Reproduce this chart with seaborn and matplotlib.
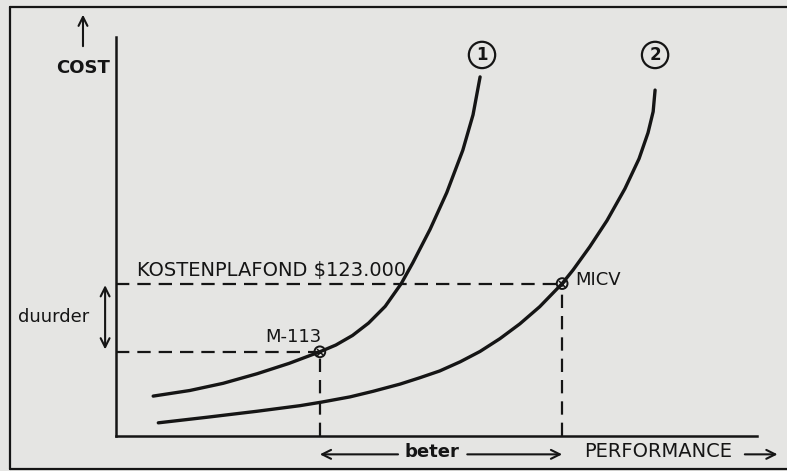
import matplotlib.pyplot as plt
import seaborn as sns
from matplotlib.lines import Line2D

# curve 1 and curve 2: cost versus performance (arbitrary units 0-100)
perf_1 = [5.8, 11.5, 16.7, 22.0, 27.0, 31.8, 34.3, 36.9, 39.4, 42.0, 44.5, 46.3, 49.0, 51.6, 54.1, 55.7, 56.8]
cost_1 = [10.0, 11.4, 13.2, 15.6, 18.2, 21.1, 22.8, 25.2, 28.3, 32.5, 38.2, 43.4, 51.8, 61.0, 71.6, 80.5, 90.0]
perf_2 = [6.6, 14.2, 22.0, 28.7, 32.1, 36.5, 40.1, 44.3, 47.4, 50.5, 53.7, 56.8, 59.9, 63.0, 66.1, 69.6,
          71.3, 73.9, 76.6, 79.4, 81.6, 83.0, 83.8, 84.1]
cost_2 = [3.3, 4.7, 6.2, 7.6, 8.5, 9.8, 11.2, 13.0, 14.6, 16.3, 18.6, 21.2, 24.4, 28.1, 32.4, 38.2,
          41.6, 47.4, 54.0, 62.0, 69.5, 76.0, 81.3, 86.7]
curve_labels = ["1", "2"]
curve_label_pos = [(57.1, 95.5), (84.1, 95.5)]

plafond = 38.2
plafond_label = "KOSTENPLAFOND $123.000"

vehicles = ["M-113", "MICV"]
vehicle_perf = [31.8, 69.6]
vehicle_cost = [21.1, 38.2]

sns.set_theme(style="white")
plt.rcParams['font.family'] = ['DejaVu Sans']

bg = "#e5e5e3"
ink = "#151515"

fig = plt.figure(figsize=(7.87, 4.71), dpi=100, facecolor=bg)
ax = fig.add_axes([116 / 787, 35 / 471, 641 / 787, 399 / 471])
ax.set_facecolor(bg)
ax.set_xlim(0, 100)
ax.set_ylim(0, 100)
ax.set_xticks([])
ax.set_yticks([])
for s in ["top", "right"]:
    ax.spines[s].set_visible(False)
for s in ["left", "bottom"]:
    ax.spines[s].set_color(ink)
    ax.spines[s].set_linewidth(1.8)

# the two curves
sns.lineplot(x=perf_1, y=cost_1, sort=False, color=ink, lw=2.4, ax=ax,
             solid_capstyle="round", solid_joinstyle="round")
sns.lineplot(x=perf_2, y=cost_2, sort=False, color=ink, lw=2.4, ax=ax,
             solid_capstyle="round", solid_joinstyle="round")
for lab, (lx, ly) in zip(curve_labels, curve_label_pos):
    ax.text(lx, ly, lab, ha="center", va="center", fontsize=12, fontweight="bold", color=ink,
            bbox=dict(boxstyle="circle,pad=0.25", fc="none", ec=ink, lw=1.6), clip_on=False)

# dashed guides
dash = (0, (6, 3.6))
ax.plot([0, vehicle_perf[1]], [plafond, plafond], ls=dash, color=ink, lw=1.6)
ax.plot([0, vehicle_perf[0]], [vehicle_cost[0], vehicle_cost[0]], ls=dash, color=ink, lw=1.6)
for p, c in zip(vehicle_perf, vehicle_cost):
    ax.plot([p, p], [0, c], ls=dash, color=ink, lw=1.6)

# vehicle points
sns.scatterplot(x=vehicle_perf, y=vehicle_cost, marker="o", s=60, facecolor="none",
                edgecolor=ink, linewidth=1.4, ax=ax, zorder=5)
sns.scatterplot(x=vehicle_perf, y=vehicle_cost, marker="x", s=25, color=ink,
                linewidth=1.1, ax=ax, zorder=5)

ax.text(3.3, plafond + 3.2, plafond_label, fontsize=14, color=ink, va="center", ha="left")
ax.text(vehicle_perf[0] - 4.2, vehicle_cost[0] + 3.6, vehicles[0], fontsize=13, color=ink,
        ha="center", va="center")
ax.text(vehicle_perf[1] + 2.0, vehicle_cost[1] + 0.8, vehicles[1], fontsize=13, color=ink,
        ha="left", va="center")

arrow = dict(arrowstyle="->", lw=1.5, color=ink, shrinkA=0, shrinkB=0, mutation_scale=16)

# cost axis label
ax.text(-5.15, 92.2, "COST", fontsize=13, fontweight="bold", color=ink, ha="center", va="center")
ax.annotate("", xy=(-5.15, 105.6), xytext=(-5.15, 97.7), arrowprops=arrow, annotation_clip=False)

# duurder
ax.text(-9.7, 29.8, "duurder", fontsize=13, color=ink, ha="center", va="center")
ax.annotate("", xy=(-1.7, plafond - 0.4), xytext=(-1.7, vehicle_cost[0] + 0.6),
            arrowprops=dict(arrow, arrowstyle="<->"), annotation_clip=False)

# beter / performance
ax.text(49.3, -4.0, "beter", fontsize=13, fontweight="bold", color=ink, ha="center", va="center")
ax.annotate("", xy=(vehicle_perf[0], -4.6), xytext=(44.0, -4.6), arrowprops=arrow, annotation_clip=False)
ax.annotate("", xy=(vehicle_perf[1], -4.6), xytext=(54.8, -4.6), arrowprops=arrow, annotation_clip=False)
ax.text(84.5, -4.0, "PERFORMANCE", fontsize=14, color=ink, ha="center", va="center")
ax.annotate("", xy=(103.2, -4.6), xytext=(98.1, -4.6), arrowprops=arrow, annotation_clip=False)

# page frame
fig.add_artist(Line2D([10 / 787, 10 / 787], [0.004, 1 - 7 / 471], color=ink, lw=1.6))
fig.add_artist(Line2D([10 / 787, 1], [1 - 7 / 471, 1 - 7 / 471], color=ink, lw=1.6))
fig.add_artist(Line2D([10 / 787, 1], [0.004, 0.004], color=ink, lw=1.6))

fig.savefig("out.png", dpi=100, facecolor=bg)
